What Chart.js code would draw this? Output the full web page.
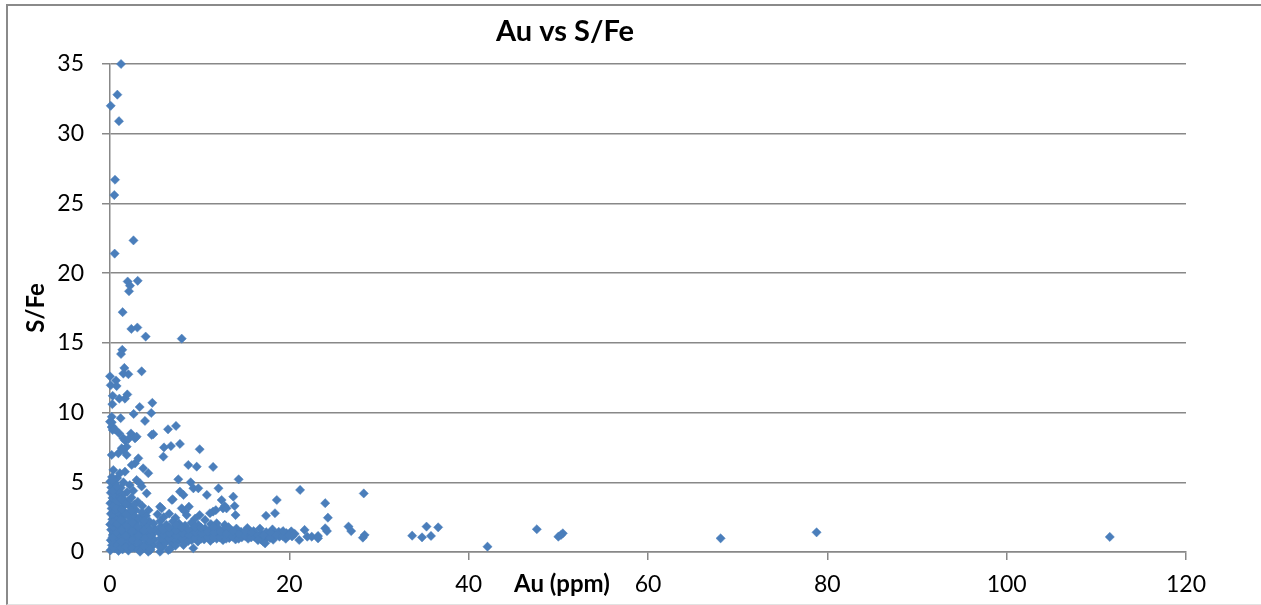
<!DOCTYPE html>
<html><head><meta charset="utf-8">
<script src="https://cdn.jsdelivr.net/npm/chart.js@4.4.1/dist/chart.umd.min.js"></script>
<style>
html,body{margin:0;padding:0;background:#fff;overflow:hidden;width:1261px;height:605px}
#frame{position:absolute;left:6px;top:4px;width:1300px;height:598px;border-left:2px solid #8a8a8a;border-top:2px solid #8a8a8a;border-bottom:1px solid #e2e2e2}
canvas{position:absolute;left:0;top:0}
</style></head><body>
<div id="frame"></div>
<canvas id="c" width="1261" height="605"></canvas>
<script>
const chartTitle = 'Au vs S/Fe';
const xAxisTitle = 'Au (ppm)';
const yAxisTitle = 'S/Fe';
const xTickValues = [0, 20, 40, 60, 80, 100, 120];
const yTickValues = [0, 5, 10, 15, 20, 25, 30, 35];

// [Au (ppm), S/Fe]
const highSfePoints = [
  [1.23,35.0],[0.82,32.8],[0.08,32.0],[1.0,30.9],[0.56,26.7],[0.48,25.6],[2.62,22.35],[0.52,21.4],
  [1.97,19.4],[3.09,19.45],[2.23,19.1],[2.12,18.7],[1.41,17.2],[2.38,16.0],[3.05,16.1],[3.98,15.45],
  [8.0,15.3],[1.37,14.5],[1.23,14.2],[0.0,12.6],[1.6,13.2],[1.49,12.8],[2.05,12.75],[3.53,12.96],
  [0.08,11.96],[0.67,12.3],[0.74,11.9],[0.3,11.2],[1.04,11.0],[1.67,11.0],[1.93,11.3],[0.26,10.6],
  [4.72,10.7],[3.31,10.4],[2.64,9.9],[4.6,9.97],[0.19,9.7],[1.19,9.6],[3.9,9.4],[7.36,9.04]
];
const midSfePoints = [
  [6.47,8.8],[0.2,9.3],[0.25,9.0],[0.0,9.35],[0.19,8.95],[0.3,8.75],[0.56,8.8],[1.04,8.5],
  [2.34,8.5],[1.49,8.15],[1.67,8.0],[2.05,8.1],[2.79,8.15],[2.97,8.27],[4.65,8.4],[4.83,8.45],
  [6.02,7.5],[6.8,7.6],[7.8,7.75],[10.0,7.37],[1.3,7.44],[1.86,7.55],[0.19,6.96],[0.93,7.08],
  [1.49,7.32],[1.86,6.96],[5.95,6.84],[3.16,6.72],[2.79,6.36],[2.42,6.24],[3.7,6.0],[4.27,5.65],
  [0.37,5.88],[1.1,5.65],[1.67,5.76],[8.73,6.24],[9.67,6.12],[11.5,6.1],[0.37,5.16],[0.56,4.93]
];
const scatterPoints = [
  [2.97,5.16],[3.35,4.93],[3.53,4.7],[4.09,4.21],[7.62,5.21],[9.0,5.0],[9.3,4.57],[9.85,4.57],
  [7.8,4.33],[8.2,4.09],[10.8,4.09],[12.1,4.57],[6.9,3.73],[5.58,3.25],[5.77,3.13],[8.0,3.13],
  [8.36,2.9],[8.55,2.65],[11.5,2.9],[12.6,3.13],[10.0,2.65],[10.6,2.3],[11.9,2.06],[12.8,1.94],
  [14.35,5.21],[12.45,3.73],[12.8,3.3],[13.0,3.13],[13.75,3.97],[13.9,3.3],[14.0,2.65],[11.8,3.0],
  [11.15,2.78],[8.8,3.25],[7.0,3.78],[6.0,2.5],[7.3,2.45],[9.5,2.4],[6.6,2.75],[5.3,2.7],
  [1.9,4.3],[2.4,3.9],[2.6,4.4],[3.1,3.6],[1.2,4.6],[0.8,5.3],[1.5,5.0],[2.2,4.8],[3.6,3.3],[4.3,3.0]
];
const clusterPoints = [
  [0.05,0.12],[0.21,0.48],[0.08,0.85],[0.30,1.22],[0.12,1.60],[0.02,1.98],[0.25,2.35],[0.10,2.74],
  [0.18,3.12],[0.04,3.50],[0.27,3.88],[0.09,4.25],[0.15,4.62],[0.03,5.05],[0.22,5.38],
  [0.55,0.25],[0.48,0.66],[0.62,1.05],[0.41,1.44],[0.58,1.83],[0.66,2.20],[0.44,2.58],[0.60,2.96],
  [0.51,3.36],[0.70,3.74],[0.46,4.12],[0.63,4.50],[0.52,4.95],
  [0.95,0.08],[1.02,0.45],[0.88,0.84],[1.10,1.20],[0.92,1.58],[1.05,1.96],[0.85,2.36],[1.12,2.75],
  [0.98,3.15],[0.90,3.55],[1.08,3.95],[0.94,4.35],
  [1.40,0.18],[1.55,0.58],[1.35,0.97],[1.62,1.35],[1.45,1.74],[1.70,2.12],[1.38,2.52],[1.58,2.90],
  [1.48,3.30],[1.66,3.70],[1.42,4.10],
  [2.05,0.10],[2.20,0.52],[1.95,0.90],[2.28,1.28],[2.10,1.66],[1.98,2.05],[2.32,2.44],[2.12,2.84],
  [2.25,3.24],[2.02,3.62],
  [2.70,0.30],[2.85,0.68],[2.62,1.08],[2.92,1.46],[2.75,1.86],[2.98,2.24],[2.66,2.64],[2.88,3.02],[2.72,3.40],
  [3.40,0.12],[3.55,0.50],[3.30,0.90],[3.62,1.28],[3.45,1.68],[3.70,2.06],[3.38,2.46],[3.58,2.84],
  [4.10,0.25],[4.25,0.65],[4.05,1.05],[4.32,1.42],[4.15,1.82],[4.38,2.20],[4.02,2.60],
  [4.80,0.48],[4.95,0.88],[4.72,1.26],[5.02,1.64],[4.86,2.04]
];
const clusterFillPoints = [
  [0.32,0.30],[0.35,0.70],[0.28,1.05],[0.38,1.80],[0.33,2.15],[0.36,3.30],[0.31,4.40],[0.34,5.20],
  [0.78,0.50],[0.75,1.40],[0.80,2.00],[0.72,3.10],[0.77,4.70],
  [1.25,0.32],[1.22,0.75],[1.28,1.55],[1.20,2.30],[1.26,3.05],[1.24,3.80],
  [1.82,0.35],[1.78,1.15],[1.85,1.90],[1.80,2.70],[1.76,3.45],
  [2.45,0.30],[2.50,0.85],[2.42,1.50],[2.48,2.10],[2.40,2.95],
  [3.15,0.20],[3.10,0.70],[3.18,1.18],[3.12,1.80],[3.20,2.40],
  [3.80,0.40],[3.85,0.95],[3.78,1.55],[3.82,2.25],
  [4.52,0.15],[4.48,0.80],[4.55,1.20],[4.50,1.60]
];
const bandPoints = [
  [5.55,0.62],[5.70,1.02],[5.48,1.40],[5.66,1.82],[5.60,2.22],
  [6.30,0.75],[6.22,1.15],[6.40,1.55],[6.28,1.95],
  [6.95,0.58],[7.08,0.98],[6.90,1.36],[7.12,1.76],[7.00,2.18],
  [7.70,0.82],[7.62,1.22],[7.80,1.62],[7.68,2.05],
  [8.40,0.70],[8.32,1.10],[8.50,1.50],[8.38,1.90],
  [9.10,0.85],[9.02,1.25],[9.20,1.64],[9.08,2.10],
  [9.80,0.75],[9.88,1.15],[9.72,1.55],[9.84,1.95],
  [10.50,0.90],[10.42,1.30],[10.60,1.70],
  [11.20,0.80],[11.28,1.20],[11.12,1.58],[11.25,2.00],
  [11.90,0.95],[11.82,1.35],[12.00,1.75],
  [12.60,0.85],[12.52,1.25],[12.70,1.62],
  [13.30,1.00],[13.38,1.40],[13.22,1.78],
  [14.00,0.90],[13.92,1.30],[14.10,1.68],
  [14.70,1.05],[14.62,1.45],
  [15.40,0.95],[15.48,1.35],[15.32,1.72],
  [16.10,1.10],[16.02,1.50],
  [16.80,0.92],[16.88,1.32],[16.72,1.68],
  [17.50,1.05],[17.42,1.42],[17.1,0.74],[17.3,0.62],
  [18.20,0.88],[18.28,1.28],[18.12,1.62],
  [18.90,1.10],[18.82,1.45],
  [19.60,0.95],[19.68,1.35],
  [20.30,1.12],[20.22,1.48]
];
const bandFillPoints = [
  [5.9,0.85],[5.95,1.25],[5.9,1.6],[6.6,0.95],[6.65,1.35],[6.6,1.75],[7.35,0.8],[7.4,1.18],
  [7.35,1.55],[7.4,1.95],[8.05,0.95],[8.1,1.35],[8.0,1.75],[8.75,0.8],[8.8,1.2],[8.75,1.6],
  [9.45,1.0],[9.5,1.4],[9.45,1.8],[10.15,0.95],[10.2,1.35],[10.15,1.75],[10.85,1.05],[10.9,1.45],
  [11.55,1.0],[11.6,1.4],[11.55,1.8],[12.25,1.05],[12.3,1.45],[12.95,0.95],[13.0,1.3],[13.65,1.1],
  [13.7,1.5],[14.35,0.95],[14.4,1.3],[15.05,1.15],[15.1,1.5],[15.75,1.05],[15.8,1.4],[16.45,1.2],
  [16.5,0.85],[17.15,1.2],[17.85,1.0],[17.9,1.4],[18.55,1.2],[19.25,1.15],[19.3,1.5],[19.95,1.2],
  [20.6,1.3],[5.9,0.4],[7.3,0.45],[8.2,0.5]
];
const lowPoints = [
  [3.35,0.02],[4.27,0.02],[5.58,0.02],[6.5,0.14],[9.29,0.27],[4.46,0.2],[5.58,0.35],[6.69,0.2]
];
const tailPoints = [
  [21.2,4.45],[18.6,3.73],[18.4,2.78],[17.4,2.6],[24.0,3.5],[24.3,2.46],[24.0,1.7],[24.2,1.5],
  [28.3,4.2],[26.6,1.82],[26.9,1.5],[28.4,1.22],[28.2,1.03],[21.7,1.58],[22.0,1.1],[22.5,1.1],
  [23.2,1.15],[21.1,0.86],[23.2,0.98],[33.7,1.17],[34.8,1.05],[35.8,1.15],[35.3,1.82],[36.6,1.77],
  [42.1,0.38],[47.6,1.63],[50.0,1.1],[50.5,1.34],[50.3,1.22],[68.1,0.98],[78.8,1.41],[111.5,1.08]
];

const allPoints = [].concat(highSfePoints, midSfePoints, scatterPoints, clusterPoints, clusterFillPoints,
  bandPoints, bandFillPoints, lowPoints, tailPoints).map(p => ({x: p[0], y: p[1]}));

const gridGrey = '#888888';
const textFont = 'Lato';

const chromePlugin = {
  id: 'chrome',
  afterDraw(chart) {
    const ctx = chart.ctx;
    const area = chart.chartArea;
    ctx.save();
    ctx.fillStyle = '#000';
    ctx.textAlign = 'center';
    ctx.textBaseline = 'alphabetic';
    ctx.font = 'bold 29px ' + textFont;
    ctx.fillText(chartTitle, 565, 41);
    ctx.font = 'bold 24px ' + textFont;
    ctx.fillText(xAxisTitle, 562, 592);
    ctx.translate(44, (area.top + area.bottom) / 2);
    ctx.rotate(-Math.PI / 2);
    ctx.fillText(yAxisTitle, 0, 0);
    ctx.restore();
  }
};

new Chart(document.getElementById('c'), {
  type: 'scatter',
  data: {
    datasets: [{
      data: allPoints,
      clip: false,
      pointStyle: 'rectRot',
      pointRadius: 4.6,
      pointHoverRadius: 4.6,
      backgroundColor: '#4a7ebb',
      borderColor: '#4a7ebb',
      borderWidth: 0.5
    }]
  },
  options: {
    responsive: false,
    animation: false,
    events: [],
    layout: { padding: { left: 0, top: 64, right: 75, bottom: 0 } },
    plugins: { legend: { display: false }, title: { display: false }, tooltip: { enabled: false } },
    scales: {
      x: {
        type: 'linear',
        min: 0, max: 120,
        afterBuildTicks: s => { s.ticks = xTickValues.map(v => ({value: v})); },
        afterFit: s => { s.height = 53; },
        grid: { drawOnChartArea: false, drawTicks: true, tickLength: 8, color: gridGrey, lineWidth: 1.5 },
        border: { color: gridGrey, width: 1.5 },
        ticks: { color: '#000', font: { family: textFont, size: 23 }, padding: 11, maxRotation: 0 }
      },
      y: {
        type: 'linear',
        min: 0, max: 35,
        afterBuildTicks: s => { s.ticks = yTickValues.map(v => ({value: v})); },
        afterFit: s => { s.width = 110; },
        grid: { drawOnChartArea: true, drawTicks: true, tickLength: 8, color: gridGrey, lineWidth: 1.5 },
        border: { color: gridGrey, width: 1.5 },
        ticks: { color: '#000', font: { family: textFont, size: 23 }, padding: 18 }
      }
    }
  },
  plugins: [chromePlugin]
});
</script>
</body></html>
